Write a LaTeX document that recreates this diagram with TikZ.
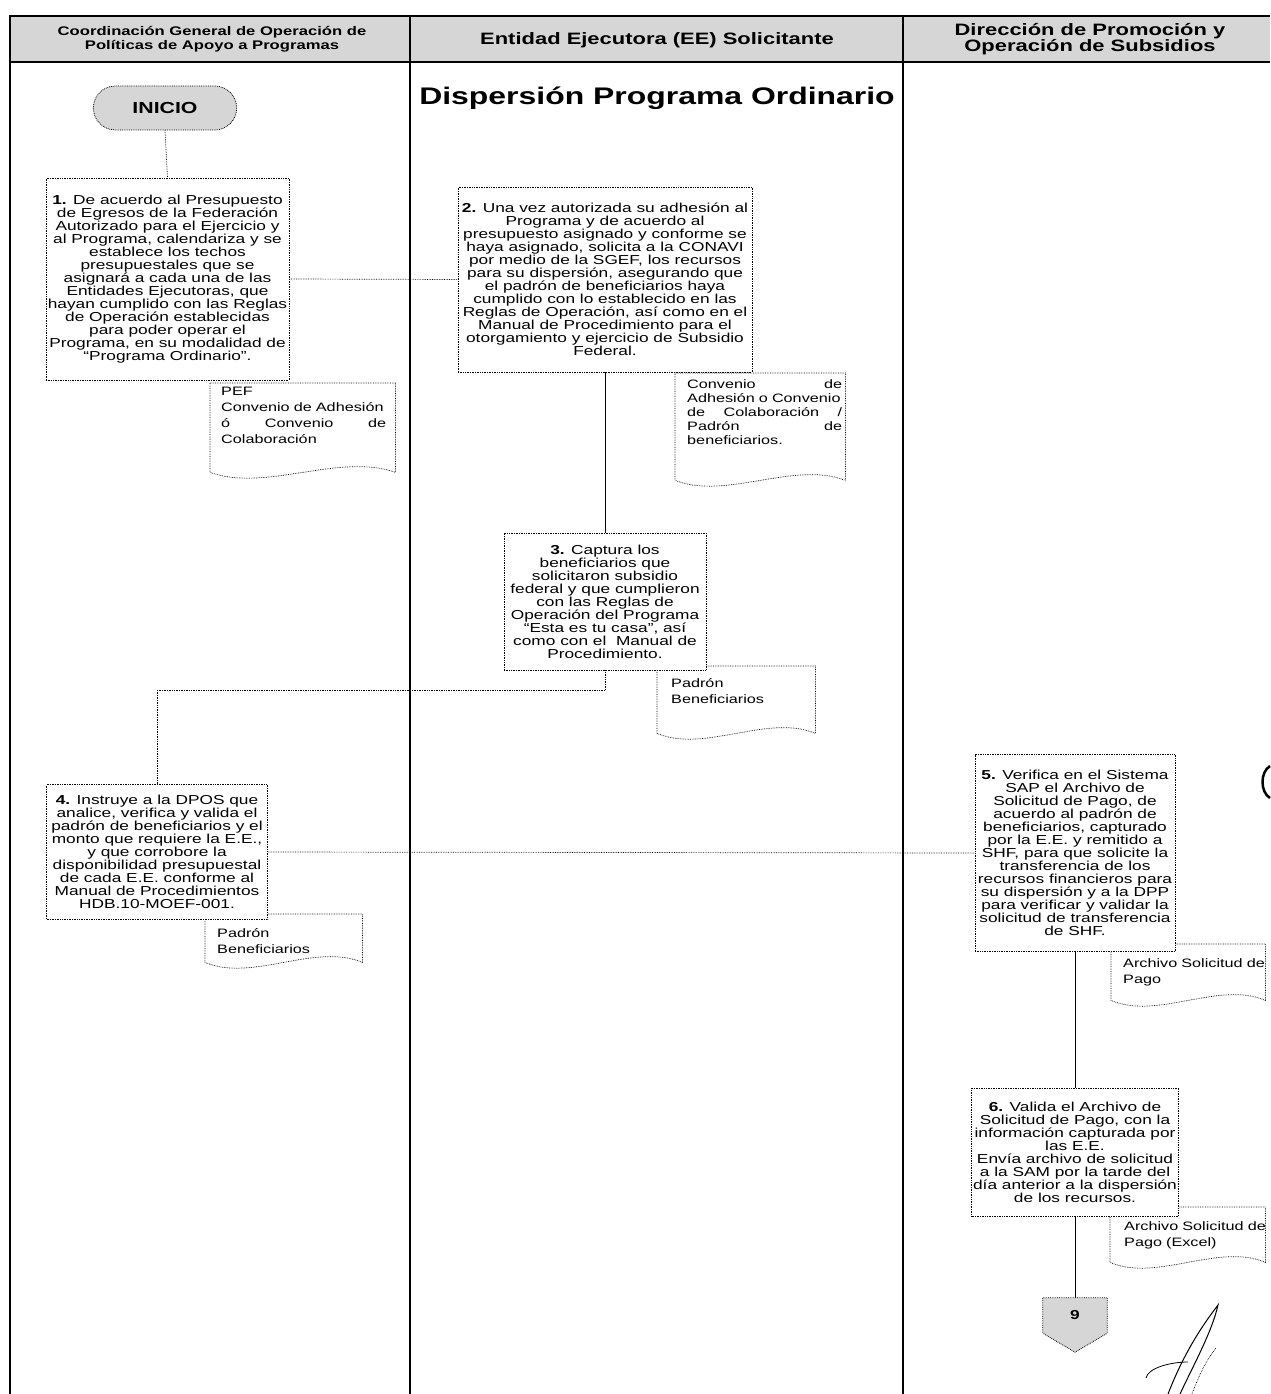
\documentclass[tikz,border=0pt]{standalone}
\usepackage{fontspec}
\setmainfont{Liberation Sans}[FakeStretch=1.33]
\usetikzlibrary{shapes.misc,calc}
\newcommand{\docpath}[1]{%
  \draw[docline] (#1.north west) -- (#1.north east) -- (#1.south east)
    .. controls ($(#1.south east)!0.3!(#1.south west)+(0,-20)$) and ($(#1.south east)!0.7!(#1.south west)+(0,20)$) .. (#1.south west) -- cycle;}
\begin{document}
\begin{tikzpicture}[x=1pt,y=-1pt,
  frame/.style={line width=2pt, black},
  hdrfill/.style={fill=black!16},
  hdr/.style={align=center, inner sep=0pt},
  terminal/.style={rounded rectangle, draw, densely dotted, line width=0.8pt, fill=black!16,
     minimum width=150pt, minimum height=44pt, font=\bfseries\fontsize{16}{16}\selectfont},
  proc/.style={draw, densely dotted, line width=0.7pt, fill=white, align=center, inner sep=1pt,
     font=\fontsize{13}{13}\selectfont},
  docshape/.style={draw=none, inner sep=0pt, anchor=north west},
  docline/.style={densely dotted, line width=0.7pt, fill=white},
  doctext/.style={anchor=north west, inner sep=0pt, align=left, font=\fontsize{12.2}{16}\selectfont},
  flowdot/.style={densely dotted, line width=0.7pt},
  flowsolid/.style={line width=0.6pt},
  offpage/.style={draw=none, inner sep=0pt, minimum width=64pt, minimum height=35pt,
     font=\bfseries\fontsize{13}{13}\selectfont}
]
\useasboundingbox (0,0) rectangle (1270,1394);
% header and frame
\fill[hdrfill] (10,16) rectangle (1270,62);
\draw[frame] (1270,16) -- (10,16) -- (10,1394);
\draw[frame] (10,62) -- (1270,62);
\draw[frame] (410,16) -- (410,1394);
\draw[frame] (903,16) -- (903,1394);
\node[hdr, font=\bfseries\fontsize{12.5}{14}\selectfont] (h1) at (212,39) {Coordinación General de Operación de\\Políticas de Apoyo a Programas};
\node[hdr, font=\bfseries\fontsize{16.5}{16}\selectfont] (h2) at (657,40) {Entidad Ejecutora (EE) Solicitante};
\node[hdr, font=\bfseries\fontsize{16.5}{16}\selectfont] (h3) at (1090,39) {Dirección de Promoción y\\Operación de Subsidios};
\node[hdr, font=\bfseries\fontsize{24}{24}\selectfont] (title) at (657,98) {Dispersión Programa Ordinario};
% start
\node[terminal] (inicio) at (165,108) {INICIO};
% documents
\node[docshape, minimum width=185pt, minimum height=89pt] (d1) at (210,383) {};
\docpath{d1}
\node[doctext, text width=165pt] (d1t) at ($(d1.north west)+(11,4)$) {PEF\\Convenio de Adhesión\\ó\hfill Convenio\hfill de\\Colaboración};
\node[docshape, minimum width=170pt, minimum height=107pt] (d2) at (675,373) {};
\docpath{d2}
\node[doctext, text width=155pt, font=\fontsize{12.2}{14}\selectfont] (d2t) at ($(d2.north west)+(12,6)$) {Convenio\hfill de\\Adhesión o Convenio\\de\hfill Colaboración\hfill /\\Padrón\hfill de\\beneficiarios.};
\node[docshape, minimum width=158pt, minimum height=67pt] (d3) at (657,666) {};
\docpath{d3}
\node[doctext, text width=140pt] (d3t) at ($(d3.north west)+(14,12)$) {Padrón\\Beneficiarios};
\node[docshape, minimum width=157pt, minimum height=48pt] (d4) at (205,914) {};
\docpath{d4}
\node[doctext, text width=140pt] (d4t) at ($(d4.north west)+(12,14)$) {Padrón\\Beneficiarios};
\node[docshape, minimum width=154pt, minimum height=56pt] (d5) at (1111,944) {};
\docpath{d5}
\node[doctext, text width=152pt] (d5t) at ($(d5.north west)+(12,14)$) {Archivo Solicitud de\\Pago};
\node[docshape, minimum width=155pt, minimum height=55pt] (d6) at (1110,1207) {};
\docpath{d6}
\node[doctext, text width=152pt] (d6t) at ($(d6.north west)+(14,14)$) {Archivo Solicitud de\\Pago (Excel)};
% process boxes
\node[proc, minimum width=243pt, minimum height=202pt] (b1) at (167.5,279) {\textbf{1.} De acuerdo al Presupuesto\\de Egresos de la Federación\\Autorizado para el Ejercicio y\\al Programa, calendariza y se\\establece los techos\\presupuestales que se\\asignará a cada una de las\\Entidades Ejecutoras, que\\hayan cumplido con las Reglas\\de Operación establecidas\\para poder operar el\\Programa, en su modalidad de\\“Programa Ordinario”.};
\node[proc, minimum width=294pt, minimum height=185pt] (b2) at (605,279.5) {\textbf{2.} Una vez autorizada su adhesión al\\Programa y de acuerdo al\\presupuesto asignado y conforme se\\haya asignado, solicita a la CONAVI\\por medio de la SGEF, los recursos\\para su dispersión, asegurando que\\el padrón de beneficiarios haya\\cumplido con lo establecido en las\\Reglas de Operación, así como en el\\Manual de Procedimiento para el\\otorgamiento y ejercicio de Subsidio\\Federal.};
\node[proc, minimum width=202pt, minimum height=137pt] (b3) at (605,601.5) {\textbf{3.} Captura los\\beneficiarios que\\solicitaron subsidio\\federal y que cumplieron\\con las Reglas de\\Operación del Programa\\“Esta es tu casa”, así\\como con el\ \ Manual de\\Procedimiento.};
\node[proc, minimum width=221pt, minimum height=135pt] (b4) at (157,852) {\textbf{4.} Instruye a la DPOS que\\analice, verifica y valida el\\padrón de beneficiarios y el\\monto que requiere la E.E.,\\y que corrobore la\\disponibilidad presupuestal\\de cada E.E. conforme al\\Manual de Procedimientos\\HDB.10-MOEF-001.};
\node[proc, minimum width=200pt, minimum height=197pt] (b5) at (1075,853) {\textbf{5.} Verifica en el Sistema\\SAP el Archivo de\\Solicitud de Pago, de\\acuerdo al padrón de\\beneficiarios, capturado\\por la E.E. y remitido a\\SHF, para que solicite la\\transferencia de los\\recursos financieros para\\su dispersión y a la DPP\\para verificar y validar la\\solicitud de transferencia\\de SHF.};
\node[proc, minimum width=207pt, minimum height=128pt] (b6) at (1075,1152) {\textbf{6.} Valida el Archivo de\\Solicitud de Pago, con la\\información capturada por\\las E.E.\\Envía archivo de solicitud\\a la SAM por la tarde del\\día anterior a la dispersión\\de los recursos.};
% off-page connector
\node[offpage] (c9) at (1075,1315.5) {};
\draw[densely dotted, line width=0.8pt, fill=black!16] (c9.north west) -- (c9.north east) -- (c9.south east) -- ($(c9.south)+(0,19)$) -- (c9.south west) -- cycle;
\node[offpage] (c9t) at (c9) {9};
% connectors
\draw[flowdot] (inicio.south) -- (b1.north);
\draw[flowdot] (b1.east) -- (b2.west);
\draw[flowsolid] (b2.south) -- (b3.north);
\draw[flowdot] (b3.south) -- ++(0,20) -| (b4.north);
\draw[flowdot] (b4.east) -- (b5.west);
\draw[flowsolid] (b5.south) -- (b6.north);
\draw[flowsolid] (b6.south) -- (c9.north);
% signature and scan mark
\draw[line width=1pt] (1168,1394) .. controls (1185,1350) and (1205,1322) .. (1218,1305) .. controls (1212,1332) and (1192,1368) .. (1180,1394);
\draw[line width=0.8pt] (1146,1378) .. controls (1148,1368) and (1170,1362) .. (1188,1362);
\draw[densely dotted, line width=0.7pt] (1192,1394) .. controls (1200,1372) and (1208,1358) .. (1216,1348);
\draw[line width=2.5pt] (1270,766) .. controls (1260,772) and (1260,792) .. (1270,798);
\end{tikzpicture}
\end{document}
